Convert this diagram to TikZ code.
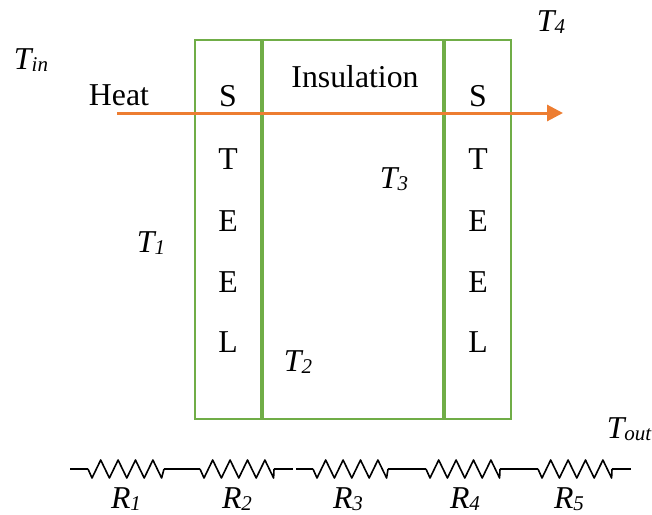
\documentclass[tikz,border=0pt]{standalone}
\usepackage{fontspec}
\setmainfont{Liberation Serif}
\usetikzlibrary{arrows.meta}
\definecolor{wallgreen}{HTML}{70AD47}
\definecolor{heatorange}{HTML}{ED7D31}
\newcommand{\tempsub}[2]{\textit{#1\raisebox{-0.2ex}{\fontsize{10.5}{12}\selectfont #2}}}
\tikzset{
  lbl/.style={anchor=base,inner sep=0pt,font=\fontsize{15.9}{18}\selectfont},
  wall/.style={draw=wallgreen,line width=1.4pt},
  divider/.style={draw=wallgreen,line width=#1},
  heatflow/.style={draw=heatorange,line width=1.5pt,-{Triangle[length=8pt,width=8pt]}},
  wire/.style={draw,line width=1.25pt},
  zig/.style={draw,line width=0.8pt,line join=round,to path={-- ++(4,9) -- ++(8.7,-18) -- ++(8.7,18) -- ++(8.7,-18) -- ++(8.7,18) -- ++(8.7,-18) -- ++(8.7,18) -- ++(8.7,-18) -- ++(8.7,18) -- (\tikztotarget)}}
}
\begin{document}
\begin{tikzpicture}[x=0.5pt,y=-0.5pt]
\useasboundingbox (0,0) rectangle (652,514);

\node[wall,rectangle,inner sep=0pt,minimum width=158pt,minimum height=189.5pt] (box) at (353,229.5) {};
\coordinate (d1t) at (262,40);
\coordinate (d1b) at (262,419);
\coordinate (d2t) at (444,40);
\coordinate (d2b) at (444,419);
\path[divider=2.3pt] (d1t) -- (d1b);
\path[divider=2.1pt] (d2t) -- (d2b);

\coordinate (hs) at (117,113);
\coordinate (he) at (563,113);
\path[heatflow] (hs) -- (he);

\node[lbl] (heat) at (119,105) {Heat};
\node[lbl] (ins) at (355,87) {Insulation};

\node[lbl] (s1) at (228,106) {S};
\node[lbl] (t1) at (228,169) {T};
\node[lbl] (e1) at (228,231) {E};
\node[lbl] (f1) at (228,292) {E};
\node[lbl] (l1) at (228,352) {L};
\node[lbl] (s2) at (478,106) {S};
\node[lbl] (t2) at (478,169) {T};
\node[lbl] (e2) at (478,231) {E};
\node[lbl] (f2) at (478,292) {E};
\node[lbl] (l2) at (478,352) {L};

\node[lbl] (tin) at (31,69) {\tempsub{T}{in}};
\node[lbl] (T1) at (151,252) {\tempsub{T}{1}};
\node[lbl] (T2) at (298,371) {\tempsub{T}{2}};
\node[lbl] (T3) at (394,188) {\tempsub{T}{3}};
\node[lbl] (T4) at (551,31) {\tempsub{T}{4}};
\node[lbl] (tout) at (629,438) {\tempsub{T}{out}};

% resistor chain
\coordinate (w0) at (70,469);
\coordinate (a1) at (88,469);
\coordinate (b1) at (164,469);
\coordinate (a2) at (200,469);
\coordinate (b2) at (274,469);
\coordinate (w1) at (293,469);
\coordinate (w2) at (296,469);
\coordinate (a3) at (313,469);
\coordinate (b3) at (388,469);
\coordinate (a4) at (426,469);
\coordinate (b4) at (500,469);
\coordinate (a5) at (538,469);
\coordinate (b5) at (612,469);
\coordinate (w3) at (631,469);

\path[wire] (w0) -- (a1);
\path[zig] (a1) to (b1);
\path[wire] (b1) -- (a2);
\path[zig] (a2) to (b2);
\path[wire] (b2) -- (w1);
\path[wire] (w2) -- (a3);
\path[zig] (a3) to (b3);
\path[wire] (b3) -- (a4);
\path[zig] (a4) to (b4);
\path[wire] (b4) -- (a5);
\path[zig] (a5) to (b5);
\path[wire] (b5) -- (w3);

\node[lbl] (R1) at (126,508) {\tempsub{R}{1}};
\node[lbl] (R2) at (237,508) {\tempsub{R}{2}};
\node[lbl] (R3) at (348,508) {\tempsub{R}{3}};
\node[lbl] (R4) at (465,508) {\tempsub{R}{4}};
\node[lbl] (R5) at (569,508) {\tempsub{R}{5}};
\end{tikzpicture}
\end{document}
